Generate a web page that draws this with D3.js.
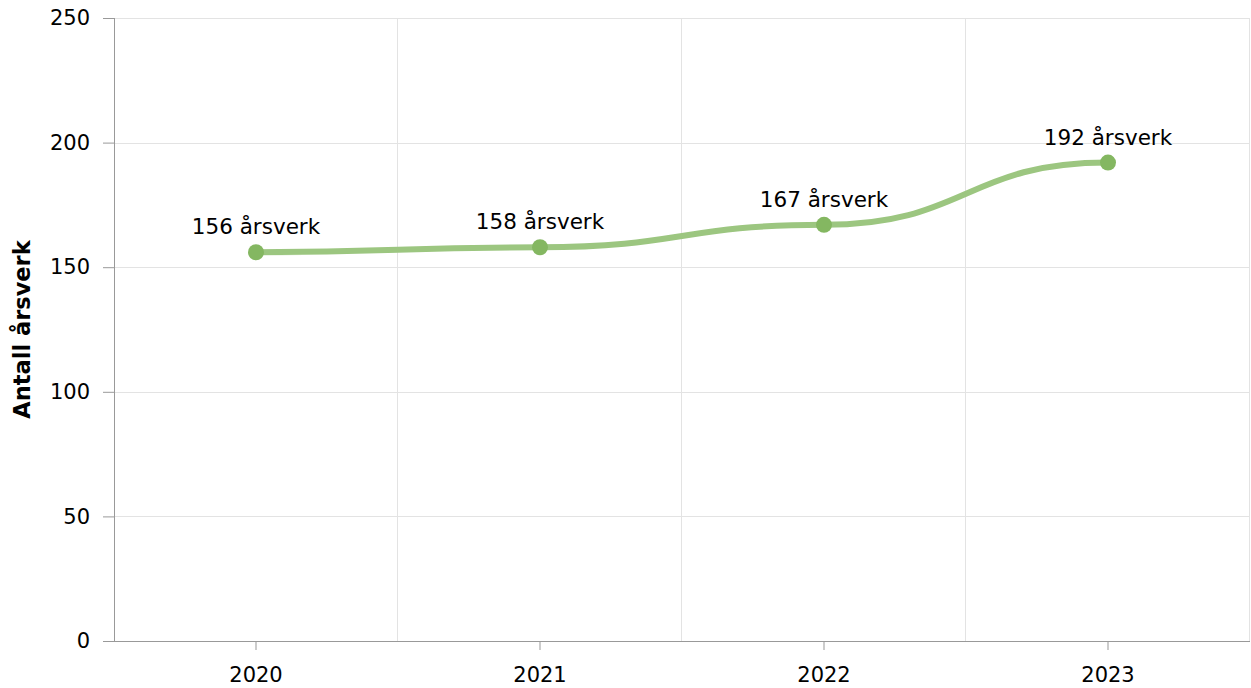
<!DOCTYPE html>
<html lang="no">
<head>
    <meta charset="UTF-8">
    <title>Antall årsverk</title>
    <script src="https://d3js.org/d3.v7.min.js"></script>
    <style>
        body {
            margin: 0;
            font-family: "DejaVu Sans", Verdana, sans-serif;
            background: #fff;
        }
        .grid line {
            stroke: #e3e3e3;
            stroke-width: 1;
        }
        .axis path, .axis line {
            stroke: #999;
        }
        .axis text {
            font-size: 21px;
            fill: #000;
            font-family: "DejaVu Sans", Verdana, sans-serif;
        }
    </style>
</head>
<body>

<svg id="chart" width="1251" height="688"></svg>

<script>
    const years = ["2020", "2021", "2022", "2023"];
    const values = [156, 158, 167, 192];
    const yTicks = [0, 50, 100, 150, 200, 250];
    const unit = "årsverk";
    const yTitle = "Antall årsverk";

    const data = years.map((y, i) => ({ year: y, value: values[i] }));

    const margin = { top: 18, right: 1, bottom: 47, left: 114 };
    const width = 1251 - margin.left - margin.right;
    const height = 688 - margin.top - margin.bottom;

    const svg = d3.select("#chart")
        .append("g")
        .attr("transform", `translate(${margin.left},${margin.top})`);

    const x = d3.scaleBand()
        .domain(years)
        .range([0, width]);

    const y = d3.scaleLinear()
        .domain([0, 250])
        .range([height, 0]);

    // horizontal grid
    svg.append("g")
        .attr("class", "grid")
        .selectAll("line")
        .data(yTicks.filter(d => d > 0))
        .enter()
        .append("line")
        .attr("x1", 0)
        .attr("x2", width)
        .attr("y1", d => Math.round(y(d)) + 0.5)
        .attr("y2", d => Math.round(y(d)) + 0.5);

    // vertical grid at band edges
    svg.append("g")
        .attr("class", "grid")
        .selectAll("line")
        .data(years.slice(1).concat(["end"]))
        .enter()
        .append("line")
        .attr("x1", (d, i) => Math.round(i < years.length - 1 ? x(d) : width) - 0.5)
        .attr("x2", (d, i) => Math.round(i < years.length - 1 ? x(d) : width) - 0.5)
        .attr("y1", 0)
        .attr("y2", height);

    // y axis
    svg.append("g")
        .attr("class", "axis")
        .call(d3.axisLeft(y).tickValues(yTicks).tickSize(11).tickPadding(13))
        .call(g => g.select(".domain").attr("d", `M0.5,0V${height}`));

    // x axis
    svg.append("g")
        .attr("class", "axis")
        .attr("transform", `translate(0,${height})`)
        .call(d3.axisBottom(x).tickSize(9).tickPadding(17))
        .call(g => g.select(".domain").attr("d", `M-11,0.5H${width}`));

    // y title
    svg.append("text")
        .attr("transform", `translate(${-84},${height / 2}) rotate(-90)`)
        .attr("text-anchor", "middle")
        .attr("font-size", "22.5px")
        .attr("font-weight", "bold")
        .text(yTitle);

    const cx = d => x(d.year) + x.bandwidth() / 2;

    const line = d3.line()
        .x(cx)
        .y(d => y(d.value))
        .curve(d3.curveBumpX);

    svg.append("path")
        .datum(data)
        .attr("fill", "none")
        .attr("stroke", "#9cc680")
        .attr("stroke-width", 6)
        .attr("stroke-linecap", "round")
        .attr("d", line);

    svg.selectAll("circle")
        .data(data)
        .enter()
        .append("circle")
        .attr("cx", cx)
        .attr("cy", d => y(d.value))
        .attr("r", 8)
        .attr("fill", "#84b761");

    svg.selectAll(".label")
        .data(data)
        .enter()
        .append("text")
        .attr("class", "label")
        .attr("x", cx)
        .attr("y", d => y(d.value) - 18)
        .attr("text-anchor", "middle")
        .attr("font-size", "21.5px")
        .attr("fill", "#000")
        .text(d => `${d.value} ${unit}`);
</script>

</body>
</html>
